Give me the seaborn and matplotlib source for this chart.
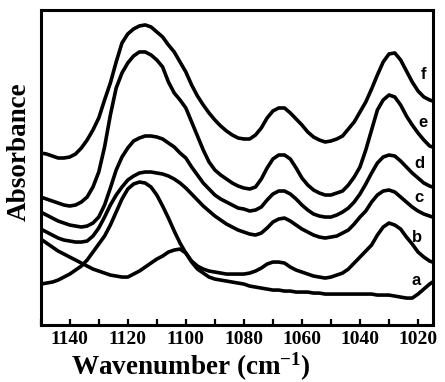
import numpy as np
import pandas as pd
import matplotlib
matplotlib.use("Agg")
import matplotlib.pyplot as plt
import seaborn as sns
from matplotlib.ticker import MultipleLocator

# ---- data ----
wavenumber = [1150, 1148, 1146, 1144, 1142, 1140, 1138, 1136, 1134, 1132,
              1130, 1128, 1126, 1124, 1122, 1120, 1118, 1116, 1114, 1112,
              1110, 1108, 1106, 1104, 1102, 1100, 1098, 1096, 1094, 1092,
              1090, 1088, 1086, 1084, 1082, 1080, 1078, 1076, 1074, 1072,
              1070, 1068, 1066, 1064, 1062, 1060, 1058, 1056, 1054, 1052,
              1050, 1048, 1046, 1044, 1042, 1040, 1038, 1036, 1034, 1032,
              1030, 1028, 1026, 1024, 1022, 1020, 1018, 1016, 1015]

abs_f = [1.72, 1.71, 1.69, 1.67, 1.67, 1.68, 1.71, 1.77, 1.85, 1.95,
         2.07, 2.25, 2.42, 2.63, 2.82, 2.91, 2.96, 2.99, 3.00, 2.98,
         2.93, 2.88, 2.80, 2.73, 2.63, 2.53, 2.40, 2.29, 2.20, 2.12,
         2.05, 1.99, 1.94, 1.90, 1.87, 1.86, 1.86, 1.90, 1.97, 2.07,
         2.14, 2.17, 2.17, 2.12, 2.06, 2.00, 1.93, 1.88, 1.85, 1.83,
         1.84, 1.86, 1.89, 1.96, 2.03, 2.13, 2.23, 2.36, 2.50, 2.63,
         2.71, 2.72, 2.65, 2.54, 2.43, 2.34, 2.28, 2.25, 2.24]
abs_e = [1.28, 1.26, 1.24, 1.22, 1.20, 1.19, 1.20, 1.23, 1.28, 1.38,
         1.53, 1.78, 2.10, 2.37, 2.52, 2.62, 2.69, 2.73, 2.73, 2.70,
         2.65, 2.58, 2.43, 2.32, 2.25, 2.17, 2.03, 1.89, 1.75, 1.63,
         1.55, 1.50, 1.46, 1.42, 1.39, 1.37, 1.36, 1.38, 1.46, 1.57,
         1.66, 1.70, 1.70, 1.66, 1.57, 1.47, 1.40, 1.35, 1.32, 1.30,
         1.30, 1.32, 1.34, 1.40, 1.48, 1.58, 1.75, 1.95, 2.15, 2.25,
         2.30, 2.28, 2.20, 2.09, 2.00, 1.92, 1.85, 1.79, 1.78]
abs_d = [1.13, 1.10, 1.07, 1.04, 1.02, 1.00, 0.99, 0.98, 0.99, 1.02,
         1.08, 1.20, 1.37, 1.55, 1.68, 1.77, 1.84, 1.87, 1.89, 1.89,
         1.88, 1.86, 1.82, 1.78, 1.72, 1.67, 1.58, 1.50, 1.42, 1.36,
         1.30, 1.26, 1.23, 1.20, 1.17, 1.16, 1.14, 1.15, 1.18, 1.25,
         1.31, 1.34, 1.34, 1.31, 1.26, 1.20, 1.15, 1.11, 1.09, 1.08,
         1.08, 1.10, 1.13, 1.17, 1.23, 1.31, 1.41, 1.52, 1.62, 1.68,
         1.70, 1.69, 1.64, 1.58, 1.52, 1.47, 1.42, 1.39, 1.38]
abs_c = [0.96, 0.93, 0.90, 0.87, 0.85, 0.84, 0.83, 0.83, 0.84, 0.89,
         0.97, 1.08, 1.20, 1.30, 1.38, 1.45, 1.49, 1.52, 1.53, 1.53,
         1.52, 1.51, 1.49, 1.46, 1.42, 1.37, 1.31, 1.25, 1.19, 1.14,
         1.09, 1.05, 1.01, 0.98, 0.95, 0.93, 0.91, 0.90, 0.92, 0.97,
         1.03, 1.06, 1.07, 1.04, 1.00, 0.96, 0.93, 0.90, 0.88, 0.87,
         0.88, 0.89, 0.92, 0.95, 1.01, 1.08, 1.14, 1.23, 1.30, 1.34,
         1.35, 1.33, 1.28, 1.23, 1.18, 1.14, 1.11, 1.09, 1.08]
abs_b = [0.41, 0.42, 0.43, 0.45, 0.48, 0.51, 0.55, 0.59, 0.65, 0.73,
         0.81, 0.89, 1.00, 1.13, 1.26, 1.36, 1.41, 1.43, 1.42, 1.38,
         1.30, 1.19, 1.07, 0.94, 0.82, 0.72, 0.64, 0.59, 0.56, 0.54,
         0.53, 0.52, 0.51, 0.51, 0.51, 0.51, 0.52, 0.54, 0.57, 0.61,
         0.63, 0.63, 0.62, 0.58, 0.55, 0.53, 0.51, 0.49, 0.48, 0.47,
         0.48, 0.50, 0.52, 0.56, 0.62, 0.68, 0.74, 0.80, 0.90, 0.98,
         1.02, 1.00, 0.96, 0.88, 0.81, 0.73, 0.68, 0.64, 0.63]
abs_a = [0.86, 0.82, 0.78, 0.74, 0.71, 0.68, 0.65, 0.62, 0.59, 0.56,
         0.54, 0.52, 0.50, 0.49, 0.48, 0.48, 0.51, 0.54, 0.58, 0.62,
         0.66, 0.69, 0.73, 0.75, 0.76, 0.72, 0.63, 0.56, 0.52, 0.48,
         0.46, 0.45, 0.44, 0.43, 0.42, 0.41, 0.39, 0.38, 0.37, 0.36,
         0.35, 0.35, 0.34, 0.34, 0.33, 0.33, 0.33, 0.32, 0.32, 0.31,
         0.31, 0.31, 0.31, 0.31, 0.31, 0.31, 0.31, 0.31, 0.30, 0.30,
         0.30, 0.29, 0.28, 0.27, 0.27, 0.31, 0.36, 0.41, 0.43]

labels = ["a", "b", "c", "d", "e", "f"]
label_y = [0.45, 0.88, 1.28, 1.62, 2.02, 2.50]
label_x = [1020.8, 1020.3, 1019.5, 1019.5, 1018.3, 1018.2]
tick_values = [1140, 1120, 1100, 1080, 1060, 1040, 1020]

series = dict(zip(labels, [abs_a, abs_b, abs_c, abs_d, abs_e, abs_f]))
df = pd.concat([pd.DataFrame({"wavenumber": wavenumber, "absorbance": v, "sample": k})
                for k, v in series.items()], ignore_index=True)

sns.set_style("ticks", {"text.color": "black", "axes.labelcolor": "black",
                        "xtick.color": "black", "ytick.color": "black",
                        "axes.edgecolor": "black"})
plt.rcParams["mathtext.fontset"] = "custom"
plt.rcParams["mathtext.bf"] = "Liberation Serif:bold"
plt.rcParams["mathtext.rm"] = "Liberation Serif:bold"
plt.rcParams["mathtext.default"] = "bf"
serif = ["Liberation Serif", "DejaVu Serif"]

fig = plt.figure(figsize=(4.45, 3.82), dpi=100)
ax = fig.add_axes([0.0915, 0.149, 0.8805, 0.825])

sns.lineplot(data=df, x="wavenumber", y="absorbance", hue="sample", units="sample",
             estimator=None, sort=False, palette=["black"] * 6, linewidth=2.6,
             legend=False, ax=ax, solid_joinstyle="round", solid_capstyle="round")

ax.set_xlim(1150, 1015)
ax.set_ylim(0, 3.15)
ax.set_xticks(tick_values)
ax.xaxis.set_minor_locator(MultipleLocator(10))
ax.set_yticks([])
ax.tick_params(axis="x", which="both", direction="in", length=4, width=1.6,
               top=False, bottom=True, pad=4, colors="black")
for lbl in ax.get_xticklabels():
    lbl.set_fontfamily(serif)
    lbl.set_fontweight("bold")
    lbl.set_fontsize(14)

for s in ax.spines.values():
    s.set_visible(True)
    s.set_linewidth(2.2)
    s.set_color("black")

ax.set_xlabel("Wavenumber (cm$^{-1}$)", fontsize=19.5, fontweight="bold",
              family=serif, color="black")
ax.xaxis.set_label_coords(0.383, -0.082)
ax.set_ylabel("Absorbance", fontsize=19.5, fontweight="bold", family=serif, color="black")
ax.yaxis.set_label_coords(-0.022, 0.55)

for t, x, y in zip(labels, label_x, label_y):
    ax.text(x, y, t, fontsize=12, fontweight="bold", color="black",
            family=["Liberation Sans", "DejaVu Sans"], ha="center", va="center")

fig.savefig("out.png", dpi=100)
